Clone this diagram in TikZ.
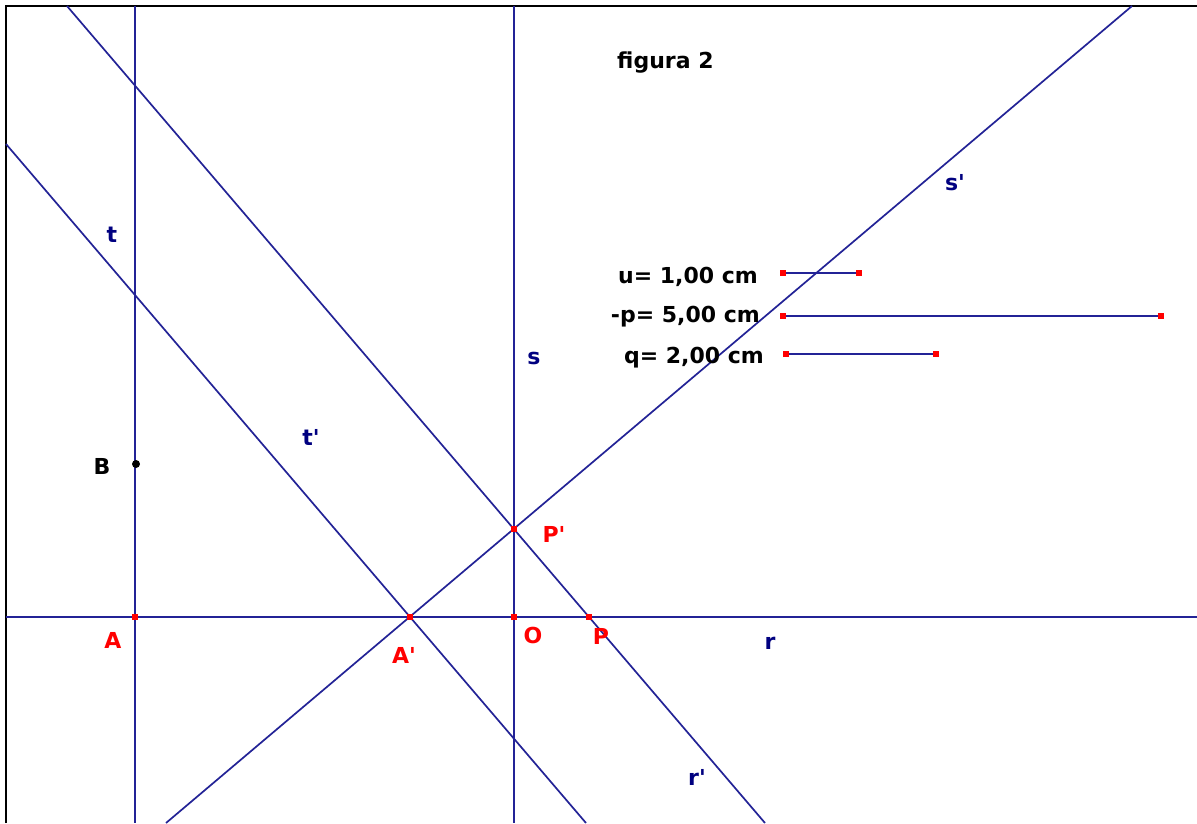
\documentclass[tikz,border=0pt]{standalone}
\usepackage{fontspec}
\setmainfont{DejaVu Sans}[Ligatures=TeXOff]
\definecolor{navy}{RGB}{0,0,128}
\definecolor{linecol}{RGB}{35,35,150}
\begin{document}
\begin{tikzpicture}[x=1pt,y=-1pt,
  geo/.style={draw=linecol, line width=2pt},
  dia/.style={draw=linecol, line width=1.7pt},
  seg/.style={draw=linecol, line width=2pt},
  lbl/.style={font=\fontsize{22}{25}\bfseries\selectfont, inner sep=0pt},
  bl/.style={lbl, text=navy},
  rd/.style={lbl, text=red},
  bk/.style={lbl, text=black},
  mk/.style={fill=red, minimum size=6pt, inner sep=0pt, draw=none, rectangle}]
\useasboundingbox (0,0) rectangle (1197,823);
\fill[white] (0,0) rectangle (1197,823);
\clip (0,0) rectangle (1197,823);
\draw[black, line width=2.5pt] (6,823) -- (6,6) -- (1197,6);
% line end points
\coordinate (rL) at (6,617);
\coordinate (rR) at (1197,617);
\coordinate (tT) at (135,6);
\coordinate (tB) at (135,823);
\coordinate (sT) at (514,6);
\coordinate (sB) at (514,823);
\coordinate (spB) at (166,823);
\coordinate (spT) at (1132,6);
\coordinate (rpT) at (67,6);
\coordinate (rpB) at (765,823);
\coordinate (tpT) at (6,144);
\coordinate (tpB) at (586,823);
% lines
\draw[geo] (rL) -- (rR);
\draw[geo] (tT) -- (tB);
\draw[geo] (sT) -- (sB);
\draw[dia] (spB) -- (spT);
\draw[dia] (rpT) -- (rpB);
\draw[dia] (tpT) -- (tpB);
% points
\node[mk] (A) at (135,617) {};
\node[mk] (O) at (514,617) {};
\node[mk] (P) at (589,617) {};
\node[mk] (Ap) at (410,617) {};
\node[mk] (Pp) at (514,529) {};
\node[circle, fill=black, minimum size=8pt, inner sep=0pt] (B) at (136,464) {};
% segments
\node[mk] (u1) at (783,273) {};
\node[mk] (u2) at (859,273) {};
\node[mk] (p1) at (783,316) {};
\node[mk] (p2) at (1161,316) {};
\node[mk] (q1) at (786,354) {};
\node[mk] (q2) at (936,354) {};
\draw[seg] (u1) -- (u2);
\draw[seg] (p1) -- (p2);
\draw[seg] (q1) -- (q2);
% texts
\node[bk, anchor=base west] (fig) at (617,68) {figura 2};
\node[bk, anchor=base east] (tu) at (758,283) {u= 1,00 cm};
\node[bk, anchor=base east] (tp) at (760,322) {-p= 5,00 cm};
\node[bk, anchor=base east] (tq) at (764,363) {q= 2,00 cm};
\node[bl] (ls) at (955,183) {s'};
\node[bl] (lt) at (112,235) {t};
\node[bl] (lss) at (534,358) {s};
\node[bl] (ltp) at (311,437) {t'};
\node[bk] (lB) at (102,466) {B};
\node[rd] (lPp) at (554,534) {P'};
\node[rd] (lO) at (533,635) {O};
\node[rd] (lP) at (601,636) {P};
\node[rd] (lAp) at (404,655) {A'};
\node[rd] (lA) at (113,640) {A};
\node[bl] (lr) at (770,643) {r};
\node[bl] (lrp) at (697,777) {r'};
\end{tikzpicture}
\end{document}
